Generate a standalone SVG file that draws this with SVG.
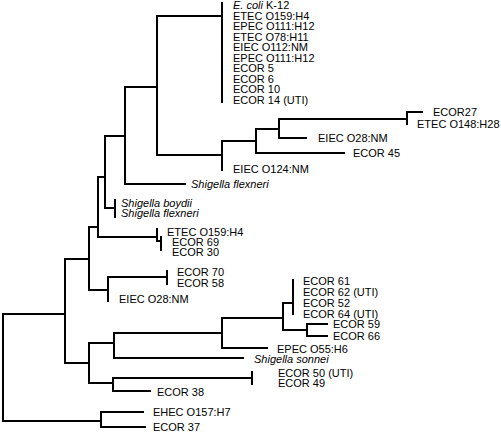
<svg xmlns="http://www.w3.org/2000/svg" width="501" height="432" viewBox="0 0 501 432">
<style>
.e{fill:none;stroke:#000;stroke-width:2;stroke-linecap:square}
text{font-family:"Liberation Sans",Arial,sans-serif;font-size:11px;fill:#000}
.i{font-style:italic}
</style>
<rect width="501" height="432" fill="#fff"/>
<g id="connectors">
<path class="e" d="M3,314 H65 M3,314 V421 H101 M101,412 V427 M101,412 H143 M101,427 H145"/>
<path class="e" d="M65,259 V363 M65,259 H89 M65,363 H89"/>
<path class="e" d="M89,227 V290 M89,227 H98 M89,290 H108 M108,277 V301 M108,277 H167 M167,271 V284"/>
<path class="e" d="M98,177 V237 M98,177 H105 M98,237 H157 M157,229 V241 H161 M161,237 V250"/>
<path class="e" d="M105,136 V208 M105,208 H115 M115,200 V217 M105,136 H125 M125,87 V184 M125,184 H185 M125,87 H157"/>
<path class="e" d="M157,16 V155 M157,16 H222 M222,3 V102 M157,155 H222 M222,141 V170"/>
<path class="e" d="M222,141 H256 M256,129 V153 M256,129 H279 M279,119 V138 M279,119 H407 M407,112 V124 M407,112 H422 M279,138 H306 M256,153 H344"/>
<path class="e" d="M89,343 V383 M89,343 H114 M114,333 V358 M114,333 H222 M114,358 H243 M222,318 V348 M222,318 H283 M222,348 H267"/>
<path class="e" d="M283,303 V330 M283,303 H293 M293,280 V314 M283,330 H307 M307,324 V336 M307,324 H327 M307,336 H327"/>
<path class="e" d="M89,383 H113 M113,378 V391 M113,378 H252 M252,372 V384 M113,391 H150"/>
</g>
<g id="clade-top">
<text x="233" y="9"><tspan class="i">E. coli</tspan> K-12</text>
<text x="233" y="19.5">ETEC O159:H4</text>
<text x="233" y="30">EPEC O111:H12</text>
<text x="233" y="40.5">ETEC O78:H11</text>
<text x="233" y="51">EIEC O112:NM</text>
<text x="233" y="61.5">EPEC O111:H12</text>
<text x="233" y="72">ECOR 5</text>
<text x="233" y="82.5">ECOR 6</text>
<text x="233" y="93">ECOR 10</text>
<text x="233" y="103.5">ECOR 14 (UTI)</text>
</g>
<g id="ecor27"><text x="433" y="116">ECOR27</text></g>
<g id="etec-o148"><text x="417" y="128">ETEC O148:H28</text></g>
<g id="eiec-o28-a"><text x="318" y="142">EIEC O28:NM</text></g>
<g id="ecor45"><text x="353" y="157">ECOR 45</text></g>
<g id="eiec-o124"><text x="233" y="173">EIEC O124:NM</text></g>
<g id="shigella-flexneri-a"><text class="i" x="191" y="188">Shigella flexneri</text></g>
<g id="shigella-boydii"><text class="i" x="121" y="207">Shigella boydii</text></g>
<g id="shigella-flexneri-b"><text class="i" x="121" y="217">Shigella flexneri</text></g>
<g id="etec-o159"><text x="167" y="236">ETEC O159:H4</text></g>
<g id="ecor69"><text x="172" y="246">ECOR 69</text></g>
<g id="ecor30"><text x="172" y="256">ECOR 30</text></g>
<g id="ecor70"><text x="177" y="276">ECOR 70</text></g>
<g id="ecor58"><text x="177" y="287">ECOR 58</text></g>
<g id="eiec-o28-b"><text x="119" y="303">EIEC O28:NM</text></g>
<g id="ecor61"><text x="303" y="285">ECOR 61</text></g>
<g id="ecor62"><text x="303" y="296">ECOR 62 (UTI)</text></g>
<g id="ecor52"><text x="303" y="307">ECOR 52</text></g>
<g id="ecor64"><text x="303" y="318">ECOR 64 (UTI)</text></g>
<g id="ecor59"><text x="333" y="328">ECOR 59</text></g>
<g id="ecor66"><text x="333" y="340">ECOR 66</text></g>
<g id="epec-o55"><text x="277" y="353">EPEC O55:H6</text></g>
<g id="shigella-sonnei"><text class="i" x="254" y="363">Shigella sonnei</text></g>
<g id="ecor50"><text x="278" y="377">ECOR 50 (UTI)</text></g>
<g id="ecor49"><text x="278" y="387">ECOR 49</text></g>
<g id="ecor38"><text x="157" y="396">ECOR 38</text></g>
<g id="ehec-o157"><text x="153" y="416">EHEC O157:H7</text></g>
<g id="ecor37"><text x="153" y="431">ECOR 37</text></g>
</svg>
